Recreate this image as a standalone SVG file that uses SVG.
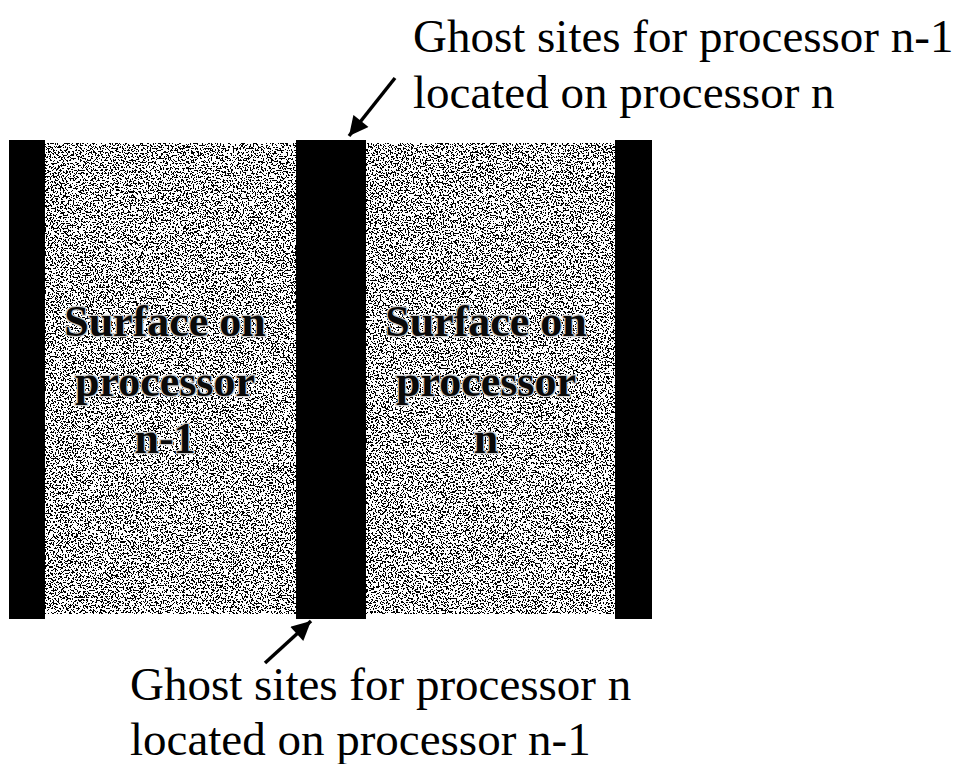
<svg xmlns="http://www.w3.org/2000/svg" width="962" height="764" viewBox="0 0 962 764">
  <style>
    .label { font-family: "Liberation Serif", Tinos, "Times New Roman", serif; font-size: 47px; fill: #000; }
    .surf { font-family: "Liberation Serif", Tinos, "Times New Roman", serif; font-size: 44px; font-weight: bold; fill: #0a0a0a; stroke: #cfcfcf; stroke-width: 2.5; paint-order: stroke; text-anchor: middle; }
    .conn { stroke: #000; stroke-width: 3.5; fill: none; marker-end: url(#head); }
  </style>
  <defs>
    <!-- black/white stipple used for the processor surfaces -->
    <filter id="grain" x="0" y="0" width="100%" height="100%" color-interpolation-filters="sRGB">
      <feTurbulence type="fractalNoise" baseFrequency="0.6" numOctaves="2" seed="7" result="n"/>
      <feColorMatrix in="n" type="matrix" values="1 0 0 0 0  1 0 0 0 0  1 0 0 0 0  0 0 0 0 1" result="g"/>
      <feComponentTransfer in="g">
        <feFuncR type="discrete" tableValues="0 0 0 0 0 0 0 0 0 1 1 1 1 1 1 1 1 1 1 1"/>
        <feFuncG type="discrete" tableValues="0 0 0 0 0 0 0 0 0 1 1 1 1 1 1 1 1 1 1 1"/>
        <feFuncB type="discrete" tableValues="0 0 0 0 0 0 0 0 0 1 1 1 1 1 1 1 1 1 1 1"/>
      </feComponentTransfer>
    </filter>
    <!-- sparse light specks on the dark ghost strips -->
    <filter id="specks" x="0" y="0" width="100%" height="100%" color-interpolation-filters="sRGB">
      <feTurbulence type="fractalNoise" baseFrequency="0.7" numOctaves="1" seed="11" result="n"/>
      <feColorMatrix in="n" type="matrix" values="1 0 0 0 0  1 0 0 0 0  1 0 0 0 0  0 0 0 0 1" result="g"/>
      <feComponentTransfer in="g">
        <feFuncR type="discrete" tableValues="0 0 0 0 0 0 0 0 0 0 0 0 1"/>
        <feFuncG type="discrete" tableValues="0 0 0 0 0 0 0 0 0 0 0 0 1"/>
        <feFuncB type="discrete" tableValues="0 0 0 0 0 0 0 0 0 0 0 0 1"/>
      </feComponentTransfer>
    </filter>
    <marker id="head" viewBox="0 0 10 10" refX="10" refY="5" markerWidth="6" markerHeight="5.5" markerUnits="strokeWidth" orient="auto">
      <path d="M0,0 L10,5 L0,10 z" fill="#000"/>
    </marker>
  </defs>

  <!-- dark ghost strips -->
  <g id="ghost-left">
    <rect x="9" y="140" width="36" height="479" filter="url(#specks)"/>
  </g>
  <g id="ghost-middle">
    <rect x="296" y="140" width="70" height="479" filter="url(#specks)"/>
  </g>
  <g id="ghost-right">
    <rect x="615" y="140" width="37" height="479" filter="url(#specks)"/>
  </g>

  <!-- processor surfaces -->
  <g id="surface-n-1">
    <rect x="45" y="143" width="251" height="471" filter="url(#grain)"/>
    <text class="surf" x="165" y="336">Surface on</text>
    <text class="surf" x="165" y="396">processor</text>
    <text class="surf" x="165" y="453">n-1</text>
  </g>
  <g id="surface-n">
    <rect x="366" y="143" width="249" height="471" filter="url(#grain)"/>
    <text class="surf" x="486" y="336">Surface on</text>
    <text class="surf" x="486" y="396">processor</text>
    <text class="surf" x="486" y="453">n</text>
  </g>

  <!-- labels -->
  <g id="label-top">
    <text class="label" x="413" y="52">Ghost sites for processor n-1</text>
    <text class="label" x="413" y="108">located on processor n</text>
  </g>
  <g id="label-bottom">
    <text class="label" x="130" y="700">Ghost sites for processor n</text>
    <text class="label" x="130" y="755">located on processor n-1</text>
  </g>

  <!-- connectors -->
  <g id="connectors">
    <line class="conn" x1="395" y1="78" x2="349" y2="136"/>
    <line class="conn" x1="265" y1="663" x2="311" y2="621"/>
  </g>
</svg>
